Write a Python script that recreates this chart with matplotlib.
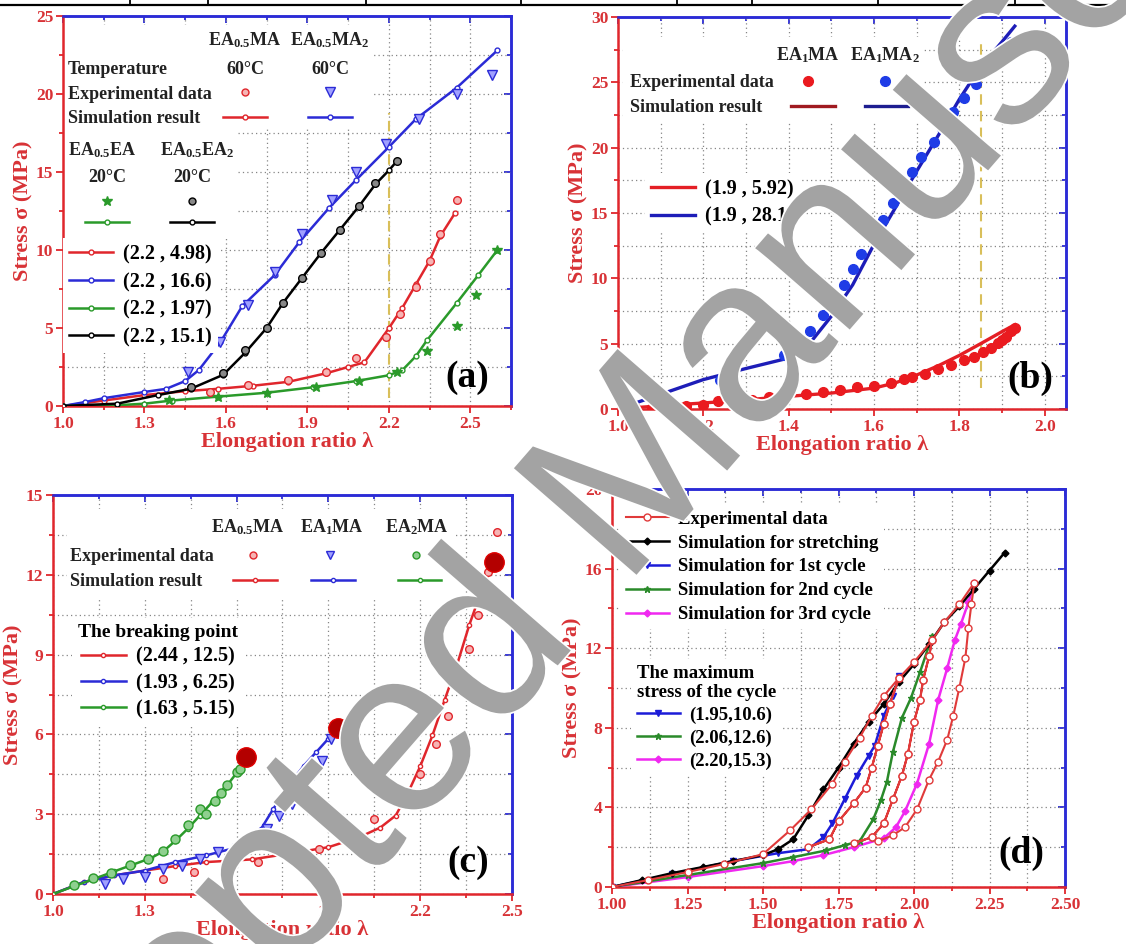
import numpy as np
import matplotlib
matplotlib.use('Agg')
import matplotlib.pyplot as plt
import matplotlib.patheffects as pe
from matplotlib.lines import Line2D
from matplotlib.patches import Rectangle
from matplotlib.ticker import FormatStrFormatter

plt.rcParams['font.family'] = ['Liberation Serif', 'DejaVu Serif']
plt.rcParams['font.weight'] = 'bold'
plt.rcParams['mathtext.default'] = 'regular'

RED = '#e0262c'
BLUE = '#2b2bd6'
GREEN = '#2a9a2a'
MAGENTA = '#f028f0'
LABEL_RED = '#d83236'

# ---- (a) EA0.5 series at 60/20 C ----
a_lam_red_sim = [1.0, 1.15, 1.3, 1.45, 1.57, 1.7, 1.83, 1.97, 2.05, 2.11, 2.2, 2.25, 2.30, 2.35, 2.39, 2.445]
a_sig_red_sim = [0, 0.35, 0.7, 0.95, 1.1, 1.3, 1.55, 2.1, 2.5, 2.8, 4.98, 6.3, 7.8, 9.3, 10.9, 12.4]
a_lam_red_exp = [1.54, 1.68, 1.83, 1.97, 2.08, 2.19, 2.24, 2.30, 2.35, 2.39, 2.45]
a_sig_red_exp = [0.9, 1.35, 1.65, 2.15, 3.1, 4.4, 5.9, 7.6, 9.3, 11.0, 13.2]

a_lam_blue_sim = [1.0, 1.08, 1.15, 1.3, 1.38, 1.45, 1.5, 1.58, 1.66, 1.78, 1.87, 1.98, 2.08, 2.2, 2.3, 2.45, 2.6]
a_sig_blue_sim = [0, 0.25, 0.5, 0.9, 1.1, 1.6, 2.3, 4.1, 6.4, 8.4, 10.5, 12.7, 14.5, 16.6, 18.4, 20.4, 22.8]
a_lam_blue_exp = [1.46, 1.58, 1.68, 1.78, 1.88, 1.99, 2.08, 2.19, 2.31, 2.45, 2.58]
a_sig_blue_exp = [2.2, 4.1, 6.5, 8.6, 11.0, 13.2, 15.0, 16.8, 18.4, 20.0, 21.2]

a_lam_green_sim = [1.0, 1.2, 1.3, 1.4, 1.57, 1.75, 1.92, 2.08, 2.2, 2.25, 2.3, 2.34, 2.45, 2.53, 2.6]
a_sig_green_sim = [0, 0.05, 0.15, 0.35, 0.6, 0.85, 1.2, 1.6, 1.97, 2.3, 3.2, 4.2, 6.6, 8.4, 10.0]
a_lam_green_exp = [1.39, 1.57, 1.75, 1.93, 2.09, 2.23, 2.34, 2.45, 2.52, 2.6]
a_sig_green_exp = [0.4, 0.6, 0.85, 1.2, 1.6, 2.2, 3.5, 5.1, 7.1, 10.0]

a_lam_black_sim = [1.0, 1.2, 1.35, 1.47, 1.59, 1.67, 1.75, 1.81, 1.88, 1.95, 2.02, 2.09, 2.15, 2.2, 2.23]
a_sig_black_sim = [0, 0.15, 0.7, 1.1, 2.0, 3.4, 5.0, 6.6, 8.2, 9.8, 11.3, 12.8, 14.2, 15.1, 15.7]
a_lam_black_exp = [1.47, 1.59, 1.67, 1.75, 1.81, 1.88, 1.95, 2.02, 2.09, 2.15, 2.23]
a_sig_black_exp = [1.2, 2.1, 3.6, 5.0, 6.6, 8.2, 9.8, 11.3, 12.8, 14.3, 15.7]

a_labels = ['(2.2 , 4.98)', '(2.2 , 16.6)', '(2.2 , 1.97)', '(2.2 , 15.1)']

# ---- (b) EA1MA / EA1MA2 ----
b_lam_blue_sim = [1.0, 1.2, 1.3, 1.4, 1.45, 1.5, 1.55, 1.6, 1.65, 1.7, 1.75, 1.8, 1.85, 1.9, 1.93]
b_sig_blue_sim = [0, 2.25, 3.1, 3.9, 5.05, 7.1, 9.5, 12.6, 15.4, 18.2, 20.9, 23.7, 26.2, 28.1, 29.3]
b_lam_blue_exp = [1.24, 1.39, 1.42, 1.45, 1.48, 1.51, 1.53, 1.55, 1.57, 1.6, 1.62, 1.645, 1.67,
                  1.69, 1.71, 1.74, 1.76, 1.785, 1.81, 1.84, 1.865, 1.895, 1.92]
b_sig_blue_exp = [2.2, 4.1, 5.05, 6.0, 7.2, 8.5, 9.5, 10.7, 11.9, 13.2, 14.5, 15.8, 16.9,
                  18.1, 19.3, 20.4, 21.5, 22.7, 23.8, 24.9, 26.0, 27.0, 28.1]
b_lam_red_sim = [1.0, 1.1, 1.2, 1.3, 1.4, 1.5, 1.6, 1.65, 1.7, 1.75, 1.8, 1.85, 1.9, 1.93]
b_sig_red_sim = [0, 0.25, 0.46, 0.7, 0.97, 1.22, 1.6, 2.0, 2.6, 3.3, 4.1, 5.0, 5.92, 6.45]
b_lam_red_exp = [1.04, 1.08, 1.12, 1.16, 1.2, 1.235, 1.275, 1.315, 1.355, 1.395, 1.44, 1.48, 1.52,
                 1.56, 1.6, 1.64, 1.67, 1.69, 1.72, 1.75, 1.78, 1.81, 1.835, 1.855, 1.875, 1.89,
                 1.9, 1.91, 1.92, 1.93]
b_sig_red_exp = [0.05, 0.1, 0.15, 0.2, 0.3, 0.6, 0.7, 0.7, 0.9, 1.0, 1.15, 1.28, 1.48,
                 1.68, 1.73, 2.0, 2.3, 2.45, 2.7, 3.06, 3.4, 3.78, 4.0, 4.4, 4.67, 5.05,
                 5.25, 5.5, 5.95, 6.2]
b_labels = ['(1.9 , 5.92)', '(1.9 , 28.1)']

# ---- (c) EA0.5MA / EA1MA / EA2MA ----
c_lam_red_sim = [1.0, 1.1, 1.2, 1.3, 1.4, 1.5, 1.65, 1.8, 1.9, 2.0, 2.07, 2.12, 2.16, 2.2, 2.24,
                 2.28, 2.32, 2.36, 2.4, 2.44]
c_sig_red_sim = [0, 0.45, 0.7, 0.88, 1.05, 1.2, 1.3, 1.57, 1.76, 2.13, 2.5, 2.95, 3.8, 4.8, 5.96,
                 7.3, 8.6, 10.1, 11.4, 12.5]
c_lam_red_exp = [1.36, 1.46, 1.56, 1.67, 1.77, 1.87, 1.97, 2.05, 2.12, 2.2, 2.25, 2.29, 2.33,
                 2.36, 2.39, 2.42, 2.45]
c_sig_red_exp = [0.56, 0.82, 1.0, 1.2, 1.38, 1.7, 2.2, 2.82, 3.64, 4.5, 5.65, 6.7, 8.0,
                 9.2, 10.5, 12.1, 13.6]
c_lam_blue_sim = [1.0, 1.1, 1.2, 1.3, 1.4, 1.5, 1.6, 1.65, 1.68, 1.72, 1.77, 1.82, 1.86, 1.9, 1.93]
c_sig_blue_sim = [0, 0.45, 0.7, 0.88, 1.2, 1.45, 1.75, 2.0, 2.45, 3.2, 4.08, 4.83, 5.33, 5.84, 6.25]
c_lam_blue_exp = [1.17, 1.23, 1.3, 1.36, 1.42, 1.48, 1.54, 1.6, 1.65, 1.7, 1.74, 1.78, 1.81,
                  1.85, 1.88, 1.91]
c_sig_blue_exp = [0.38, 0.56, 0.63, 0.94, 1.07, 1.32, 1.57, 1.7, 1.88, 2.45, 2.95, 3.39, 3.95,
                  4.46, 5.0, 5.84]
c_lam_green_sim = [1.0, 1.07, 1.13, 1.2, 1.26, 1.32, 1.36, 1.4, 1.44, 1.48, 1.52, 1.56, 1.6, 1.63]
c_sig_green_sim = [0, 0.3, 0.55, 0.85, 1.1, 1.35, 1.6, 2.0, 2.45, 2.95, 3.45, 3.95, 4.55, 5.05]
c_lam_green_exp = [1.07, 1.13, 1.19, 1.25, 1.31, 1.36, 1.4, 1.44, 1.48, 1.5, 1.53, 1.55, 1.57, 1.6, 1.61]
c_sig_green_exp = [0.35, 0.6, 0.8, 1.1, 1.3, 1.6, 2.05, 2.6, 3.2, 3.0, 3.5, 3.8, 4.1, 4.6, 4.7]
c_break_lam = [2.44, 1.93, 1.63]
c_break_sig = [12.5, 6.25, 5.15]
c_labels = ['(2.44 , 12.5)', '(1.93 , 6.25)', '(1.63 , 5.15)']

# ---- (d) cyclic loading ----
d_lam_exp = [1.0, 1.12, 1.25, 1.37, 1.5, 1.59, 1.66, 1.73, 1.77, 1.82, 1.86, 1.9, 1.95,
             1.92, 1.90, 1.88, 1.86, 1.84, 1.80, 1.75, 1.72, 1.65,
             1.72, 1.75, 1.80, 1.84, 1.86, 1.88, 1.90, 1.92, 1.95, 2.0, 2.06,
             2.05, 2.03, 2.02, 2.0, 1.98, 1.96, 1.93, 1.90, 1.86, 1.80,
             1.86, 1.90, 1.93, 1.96, 1.98, 2.0, 2.02, 2.03, 2.05, 2.06, 2.1, 2.15, 2.2,
             2.19, 2.18, 2.17, 2.15, 2.13, 2.11, 2.08, 2.05, 2.01, 1.97, 1.93, 1.88]
d_sig_exp = [0, 0.35, 0.75, 1.15, 1.65, 2.85, 3.9, 5.2, 6.3, 7.5, 8.6, 9.6, 10.5,
             9.2, 8.2, 7.1, 6.0, 5.0, 4.2, 3.3, 2.4, 2.0,
             2.4, 3.3, 4.2, 5.0, 6.0, 7.1, 8.2, 9.2, 10.5, 11.3, 12.4,
             11.6, 10.4, 9.4, 8.3, 6.7, 5.6, 4.4, 3.2, 2.5, 2.2,
             2.5, 3.2, 4.4, 5.6, 6.7, 8.3, 9.4, 10.4, 11.6, 12.4, 13.3, 14.2, 15.3,
             14.2, 13.0, 11.5, 10.0, 8.6, 7.4, 6.3, 5.4, 3.9, 3.0, 2.6, 2.3]
d_lam_stretch = [1.0, 1.1, 1.2, 1.3, 1.4, 1.5, 1.55, 1.6, 1.65, 1.7, 1.75, 1.8, 1.85, 1.9,
                 1.95, 2.0, 2.05, 2.1, 2.15, 2.2, 2.25, 2.3]
d_sig_stretch = [0, 0.35, 0.7, 1.0, 1.3, 1.6, 1.9, 2.4, 3.6, 4.9, 6.0, 7.2, 8.3, 9.2,
                 10.3, 11.2, 12.2, 13.3, 14.1, 15.0, 15.9, 16.8]
d_lam_cyc1 = [1.0, 1.2, 1.4, 1.55, 1.65, 1.70, 1.73, 1.77, 1.81, 1.85, 1.87, 1.90, 1.93, 1.95]
d_sig_cyc1 = [0, 0.65, 1.3, 1.7, 1.9, 2.5, 3.2, 4.4, 5.6, 6.6, 7.1, 8.6, 9.6, 10.6]
d_lam_cyc2 = [1.0, 1.25, 1.5, 1.6, 1.71, 1.77, 1.82, 1.865, 1.89, 1.91, 1.93, 1.96, 1.99, 2.02, 2.06]
d_sig_cyc2 = [0, 0.6, 1.2, 1.5, 1.84, 2.1, 2.3, 3.4, 4.35, 5.27, 6.78, 8.5, 9.5, 10.8, 12.6]
d_lam_cyc3 = [1.0, 1.25, 1.5, 1.6, 1.7, 1.8, 1.9, 1.94, 1.97, 2.01, 2.05, 2.08, 2.11, 2.135,
              2.155, 2.18, 2.2]
d_sig_cyc3 = [0, 0.5, 1.05, 1.3, 1.6, 2.0, 2.45, 3.0, 3.8, 5.2, 7.2, 9.4, 11.0, 12.4,
              13.2, 14.3, 15.3]
d_labels = ['(1.95,10.6)', '(2.06,12.6)', '(2.20,15.3)']

W, H = 1126, 944
fig = plt.figure(figsize=(W / 100, H / 100), dpi=100)


def panel(rect_px, xmax, xticks, xminor, yticks, yminor, xfmt):
    l, t, r, b = rect_px
    ax = fig.add_axes([l / W, 1 - b / H, (r - l) / W, (b - t) / H])
    ax.set_xlim(xticks[0], xmax)
    ax.set_ylim(yticks[0], yticks[-1])
    ax.set_xticks(xticks)
    ax.set_xticks(xminor, minor=True)
    ax.set_yticks(yticks)
    ax.set_yticks(yminor, minor=True)
    ax.xaxis.set_major_formatter(FormatStrFormatter(xfmt))
    ax.grid(True, which='both', linestyle=(0, (1, 2.5)), color='#858585', lw=0.9)
    ax.set_axisbelow(True)
    for side, col in (('left', RED), ('bottom', RED), ('top', BLUE), ('right', BLUE)):
        ax.spines[side].set_color(col)
        ax.spines[side].set_linewidth(1.8)
    ax.tick_params(which='both', direction='out', color=RED, labelcolor=LABEL_RED,
                   top=False, right=False, width=1.3, labelsize=12.5, pad=2)
    ax.tick_params(which='major', length=5)
    ax.tick_params(which='minor', length=3)
    for lab in ax.get_xticklabels() + ax.get_yticklabels():
        lab.set_fontweight('bold')
    top = ax.secondary_xaxis('top')
    top.set_xticks(xticks)
    top.set_xticks(xminor, minor=True)
    top.tick_params(which='both', direction='in', color=BLUE, labeltop=False, width=1.3)
    top.tick_params(which='major', length=5)
    top.tick_params(which='minor', length=3)
    top.spines['top'].set_color(BLUE)
    top.spines['top'].set_linewidth(1.8)
    right = ax.secondary_yaxis('right')
    right.set_yticks(yticks)
    right.set_yticks(yminor, minor=True)
    right.tick_params(which='both', direction='in', color=BLUE, labelright=False, width=1.3)
    right.tick_params(which='major', length=5)
    right.tick_params(which='minor', length=3)
    right.spines['right'].set_color(BLUE)
    right.spines['right'].set_linewidth(1.8)
    ax.set_xlabel('Elongation ratio λ', color=LABEL_RED, fontsize=16, fontweight='bold', labelpad=0)
    ax.set_ylabel('Stress σ (MPa)', color=LABEL_RED, fontsize=16, fontweight='bold', labelpad=2)
    return ax


def white_box(ax, x0, y0, x1, y1):
    ax.add_patch(Rectangle((x0, y0), x1 - x0, y1 - y0, transform=ax.transAxes,
                           facecolor='white', edgecolor='none', zorder=1))


def key(ax, handle, x, y, length=2.4):
    leg = ax.legend(handles=[handle], labels=[''], loc='center', bbox_to_anchor=(x, y),
                    frameon=False, handlelength=length, handletextpad=0, borderpad=0,
                    borderaxespad=0, numpoints=1, fontsize=13)
    ax.add_artist(leg)


def txt(ax, x, y, s, ha='center', size=13):
    ax.text(x, y, s, transform=ax.transAxes, ha=ha, va='center', fontsize=size,
            fontweight='bold', color='#222222', zorder=6)


def sim_style(color, marker='o', ms=3.5):
    return dict(color=color, lw=1.8, marker=marker, ms=ms, mfc='white', mec=color, mew=1.0, zorder=3)


# ---------------- panel (a) ----------------
ax = panel((63, 16, 511, 406), 2.65, np.arange(1.0, 2.51, 0.3), np.arange(1.0, 2.66, 0.15),
           np.arange(0, 26, 5), np.arange(0, 25.1, 2.5), '%.1f')
ax.vlines(2.2, 0.5, 18.8, colors='#d9bf5a', linestyles=(0, (5, 3)), lw=1.5, zorder=2)
la_r, = ax.plot(a_lam_red_sim, a_sig_red_sim, **sim_style(RED))
la_b, = ax.plot(a_lam_blue_sim, a_sig_blue_sim, **sim_style(BLUE))
la_g, = ax.plot(a_lam_green_sim, a_sig_green_sim, **sim_style(GREEN))
la_k, = ax.plot(a_lam_black_sim, a_sig_black_sim, **sim_style('black'))
ax.plot(a_lam_red_exp, a_sig_red_exp, 'o', ms=5.5, mfc='#f6b4b4', mec=RED, zorder=4)
ax.plot(a_lam_blue_exp, a_sig_blue_exp, 'v', ms=7, mfc='#a0a0ff', mec=BLUE, zorder=4)
ax.plot(a_lam_green_exp, a_sig_green_exp, '*', ms=7, color=GREEN, zorder=4)
ax.plot(a_lam_black_exp, a_sig_black_exp, 'o', ms=5.5, mfc='#888888', mec='black', zorder=4)

white_box(ax, 0.0, 0.713, 0.69, 0.977)
white_box(ax, 0.0, 0.436, 0.388, 0.713)
txt(ax, 0.406, 0.938, 'EA$_{0.5}$MA')
txt(ax, 0.596, 0.938, 'EA$_{0.5}$MA$_2$')
txt(ax, 0.406, 0.864, '60°C')
txt(ax, 0.596, 0.864, '60°C')
txt(ax, 0.011, 0.864, 'Temperature', ha='left')
txt(ax, 0.011, 0.800, 'Experimental data', ha='left')
txt(ax, 0.011, 0.736, 'Simulation result', ha='left')
key(ax, Line2D([], [], ls='none', marker='o', ms=5, mfc='#f6b4b4', mec=RED), 0.406, 0.800)
key(ax, Line2D([], [], ls='none', marker='v', ms=7, mfc='#a0a0ff', mec=BLUE), 0.596, 0.800)
key(ax, Line2D([], [], **sim_style(RED)), 0.406, 0.736)
key(ax, Line2D([], [], **sim_style(BLUE)), 0.596, 0.736)
txt(ax, 0.087, 0.656, 'EA$_{0.5}$EA')
txt(ax, 0.299, 0.656, 'EA$_{0.5}$EA$_2$')
txt(ax, 0.098, 0.585, '20°C')
txt(ax, 0.288, 0.585, '20°C')
key(ax, Line2D([], [], ls='none', marker='*', ms=7, color=GREEN), 0.098, 0.521)
key(ax, Line2D([], [], ls='none', marker='o', ms=5, mfc='#888888', mec='black'), 0.288, 0.521)
key(ax, Line2D([], [], **sim_style(GREEN)), 0.098, 0.467)
key(ax, Line2D([], [], **sim_style('black')), 0.288, 0.467)
ax.legend([la_r, la_b, la_g, la_k], a_labels, loc='upper left', bbox_to_anchor=(0.0, 0.43),
          borderaxespad=0, borderpad=0.3, fontsize=14.5, labelspacing=0.38, handlelength=2.2,
          handletextpad=0.5, facecolor='white', edgecolor='none', framealpha=1, fancybox=False)
ax.text(0.902, 0.074, '(a)', transform=ax.transAxes, ha='center', va='center', fontsize=27,
        fontweight='bold', zorder=6)

# ---------------- panel (b) ----------------
ax = panel((618, 17, 1066, 409), 2.05, np.arange(1.0, 2.01, 0.2), np.arange(1.0, 2.06, 0.1),
           np.arange(0, 31, 5), np.arange(0, 30.1, 2.5), '%.1f')
ax.vlines(1.85, 1.6, 28.4, colors='#d9bf5a', linestyles=(0, (5, 3)), lw=1.5, zorder=2)
lb_r, = ax.plot(b_lam_red_sim, b_sig_red_sim, color='#e41f25', lw=2.4, zorder=3)
lb_b, = ax.plot(b_lam_blue_sim, b_sig_blue_sim, color='#1d1db8', lw=2.4, zorder=3)
ax.plot(b_lam_red_exp, b_sig_red_exp, 'o', ms=7, color='#ea1a1f', zorder=4)
ax.plot(b_lam_blue_exp, b_sig_blue_exp, 'o', ms=7, color='#1f3ce6', zorder=4)
white_box(ax, 0.011, 0.73, 0.68, 0.949)
txt(ax, 0.424, 0.903, 'EA$_1$MA')
txt(ax, 0.596, 0.903, 'EA$_1$MA$_2$')
txt(ax, 0.027, 0.832, 'Experimental data', ha='left')
txt(ax, 0.027, 0.768, 'Simulation result', ha='left')
key(ax, Line2D([], [], ls='none', marker='o', ms=7, color='#ea1a1f'), 0.424, 0.832)
key(ax, Line2D([], [], ls='none', marker='o', ms=7, color='#1f3ce6'), 0.596, 0.832)
key(ax, Line2D([], [], color='#a01a20', lw=2.4), 0.435, 0.768)
key(ax, Line2D([], [], color='#1d1d90', lw=2.4), 0.600, 0.768)
ax.legend([lb_r, lb_b], b_labels, loc='upper left', bbox_to_anchor=(0.06, 0.602),
          borderaxespad=0, borderpad=0.3, fontsize=14.5, labelspacing=0.38, handlelength=2.2,
          handletextpad=0.5, facecolor='white', edgecolor='none', framealpha=1, fancybox=False)
ax.text(0.92, 0.079, '(b)', transform=ax.transAxes, ha='center', va='center', fontsize=27,
        fontweight='bold', zorder=6)

# ---------------- panel (c) ----------------
ax = panel((53, 495, 512, 894), 2.5, np.arange(1.0, 2.51, 0.3), np.arange(1.0, 2.51, 0.15),
           np.arange(0, 16, 3), np.arange(0, 15.1, 1.5), '%.1f')
lc_r, = ax.plot(c_lam_red_sim, c_sig_red_sim, **sim_style(RED, ms=3))
lc_b, = ax.plot(c_lam_blue_sim, c_sig_blue_sim, **sim_style(BLUE, ms=3))
lc_g, = ax.plot(c_lam_green_sim, c_sig_green_sim, **sim_style(GREEN, ms=3))
ax.plot(c_lam_red_exp, c_sig_red_exp, 'o', ms=5.5, mfc='#f6b4b4', mec=RED, zorder=4)
ax.plot(c_lam_blue_exp, c_sig_blue_exp, 'v', ms=6.5, mfc='#a0a0ff', mec=BLUE, zorder=4)
ax.plot(c_lam_green_exp, c_sig_green_exp, 'o', ms=6.5, mfc='#8fd08f', mec=GREEN, zorder=4)
ax.plot(c_break_lam, c_break_sig, 'o', ms=14, mfc='#b30000', mec='#e00000', ls='none', zorder=5)
white_box(ax, 0.03, 0.739, 0.871, 0.965)
txt(ax, 0.423, 0.920, 'EA$_{0.5}$MA')
txt(ax, 0.608, 0.920, 'EA$_1$MA')
txt(ax, 0.793, 0.920, 'EA$_2$MA')
txt(ax, 0.037, 0.845, 'Experimental data', ha='left')
txt(ax, 0.037, 0.782, 'Simulation result', ha='left')
key(ax, Line2D([], [], ls='none', marker='o', ms=5, mfc='#f6b4b4', mec=RED), 0.436, 0.845)
key(ax, Line2D([], [], ls='none', marker='v', ms=6, mfc='#a0a0ff', mec=BLUE), 0.603, 0.845)
key(ax, Line2D([], [], ls='none', marker='o', ms=5, mfc='#8fd08f', mec=GREEN), 0.791, 0.845)
key(ax, Line2D([], [], **sim_style(RED, ms=3)), 0.44, 0.782)
key(ax, Line2D([], [], **sim_style(BLUE, ms=3)), 0.61, 0.782)
key(ax, Line2D([], [], **sim_style(GREEN, ms=3)), 0.799, 0.782)
leg = ax.legend([lc_r, lc_b, lc_g], c_labels, title='The breaking point', loc='upper left',
                bbox_to_anchor=(0.041, 0.692), borderaxespad=0, borderpad=0.3, fontsize=14.5,
                title_fontsize=14, labelspacing=0.3, handlelength=2.2, handletextpad=0.5,
                facecolor='white', edgecolor='none', framealpha=1, fancybox=False)
leg.get_title().set_fontweight('bold')
ax.text(0.904, 0.080, '(c)', transform=ax.transAxes, ha='center', va='center', fontsize=27,
        fontweight='bold', zorder=6)

# ---------------- panel (d) ----------------
ax = panel((612, 489, 1065, 887), 2.5, np.arange(1.0, 2.51, 0.25), np.arange(1.0, 2.51, 0.125),
           np.arange(0, 21, 4), np.arange(0, 20.1, 2), '%.2f')
ld_c3, = ax.plot(d_lam_cyc3, d_sig_cyc3, color=MAGENTA, lw=1.8, marker='D', ms=3.5, zorder=3)
ld_c2, = ax.plot(d_lam_cyc2, d_sig_cyc2, color='#2a8a2a', lw=1.8, marker='*', ms=5, zorder=3)
ld_c1, = ax.plot(d_lam_cyc1, d_sig_cyc1, color='#1c1cd8', lw=1.8, marker='v', ms=4, zorder=3)
ld_e, = ax.plot(d_lam_exp, d_sig_exp, color='#e03a3a', lw=1.5, marker='o', ms=5, mfc='white',
                mec='#e03a3a', mew=1.0, zorder=4)
ld_s, = ax.plot(d_lam_stretch, d_sig_stretch, color='black', lw=1.8, marker='D', ms=3.5, zorder=3)
leg = ax.legend([ld_e, ld_s, ld_c1, ld_c2, ld_c3],
                ['Experimental data', 'Simulation for stretching', 'Simulation for 1st cycle',
                 'Simulation for 2nd cycle', 'Simulation for 3rd cycle'],
                loc='upper left', bbox_to_anchor=(0.018, 0.96), borderaxespad=0, borderpad=0.3,
                fontsize=13.5, labelspacing=0.36, handlelength=2.3, handletextpad=0.5,
                facecolor='white', edgecolor='none', framealpha=1, fancybox=False)
ax.add_artist(leg)
leg2 = ax.legend([ld_c1, ld_c2, ld_c3], d_labels, title='The maximum\nstress of the cycle',
                 loc='upper left', bbox_to_anchor=(0.042, 0.573), borderaxespad=0, borderpad=0.3,
                 fontsize=13.5, title_fontsize=13.5, labelspacing=0.3, handlelength=2.3,
                 handletextpad=0.5, facecolor='white', edgecolor='none', framealpha=1, fancybox=False)
leg2.get_title().set_fontweight('bold')
leg2._legend_box.align = 'left'
ax.text(0.903, 0.085, '(d)', transform=ax.transAxes, ha='center', va='center', fontsize=27,
        fontweight='bold', zorder=6)

# table rule above the figure
fig.add_artist(Line2D([0, 1], [1 - 5 / H, 1 - 5 / H], color='black', lw=1.6))
for xp in [130, 208, 366, 521, 677, 752, 878, 1015]:
    fig.add_artist(Line2D([xp / W, xp / W], [1 - 5 / H, 1], color='black', lw=1.3))

# watermark
fig.text(612 / W, 1 - 510 / H, 'Accepted Manuscript', rotation=49, ha='center', va='center',
         fontsize=170, family='Liberation Sans', fontweight='normal', color='#a3a3a3', zorder=20,
         path_effects=[pe.withStroke(linewidth=2.5, foreground='white')])

fig.savefig('out.png', dpi=100)
